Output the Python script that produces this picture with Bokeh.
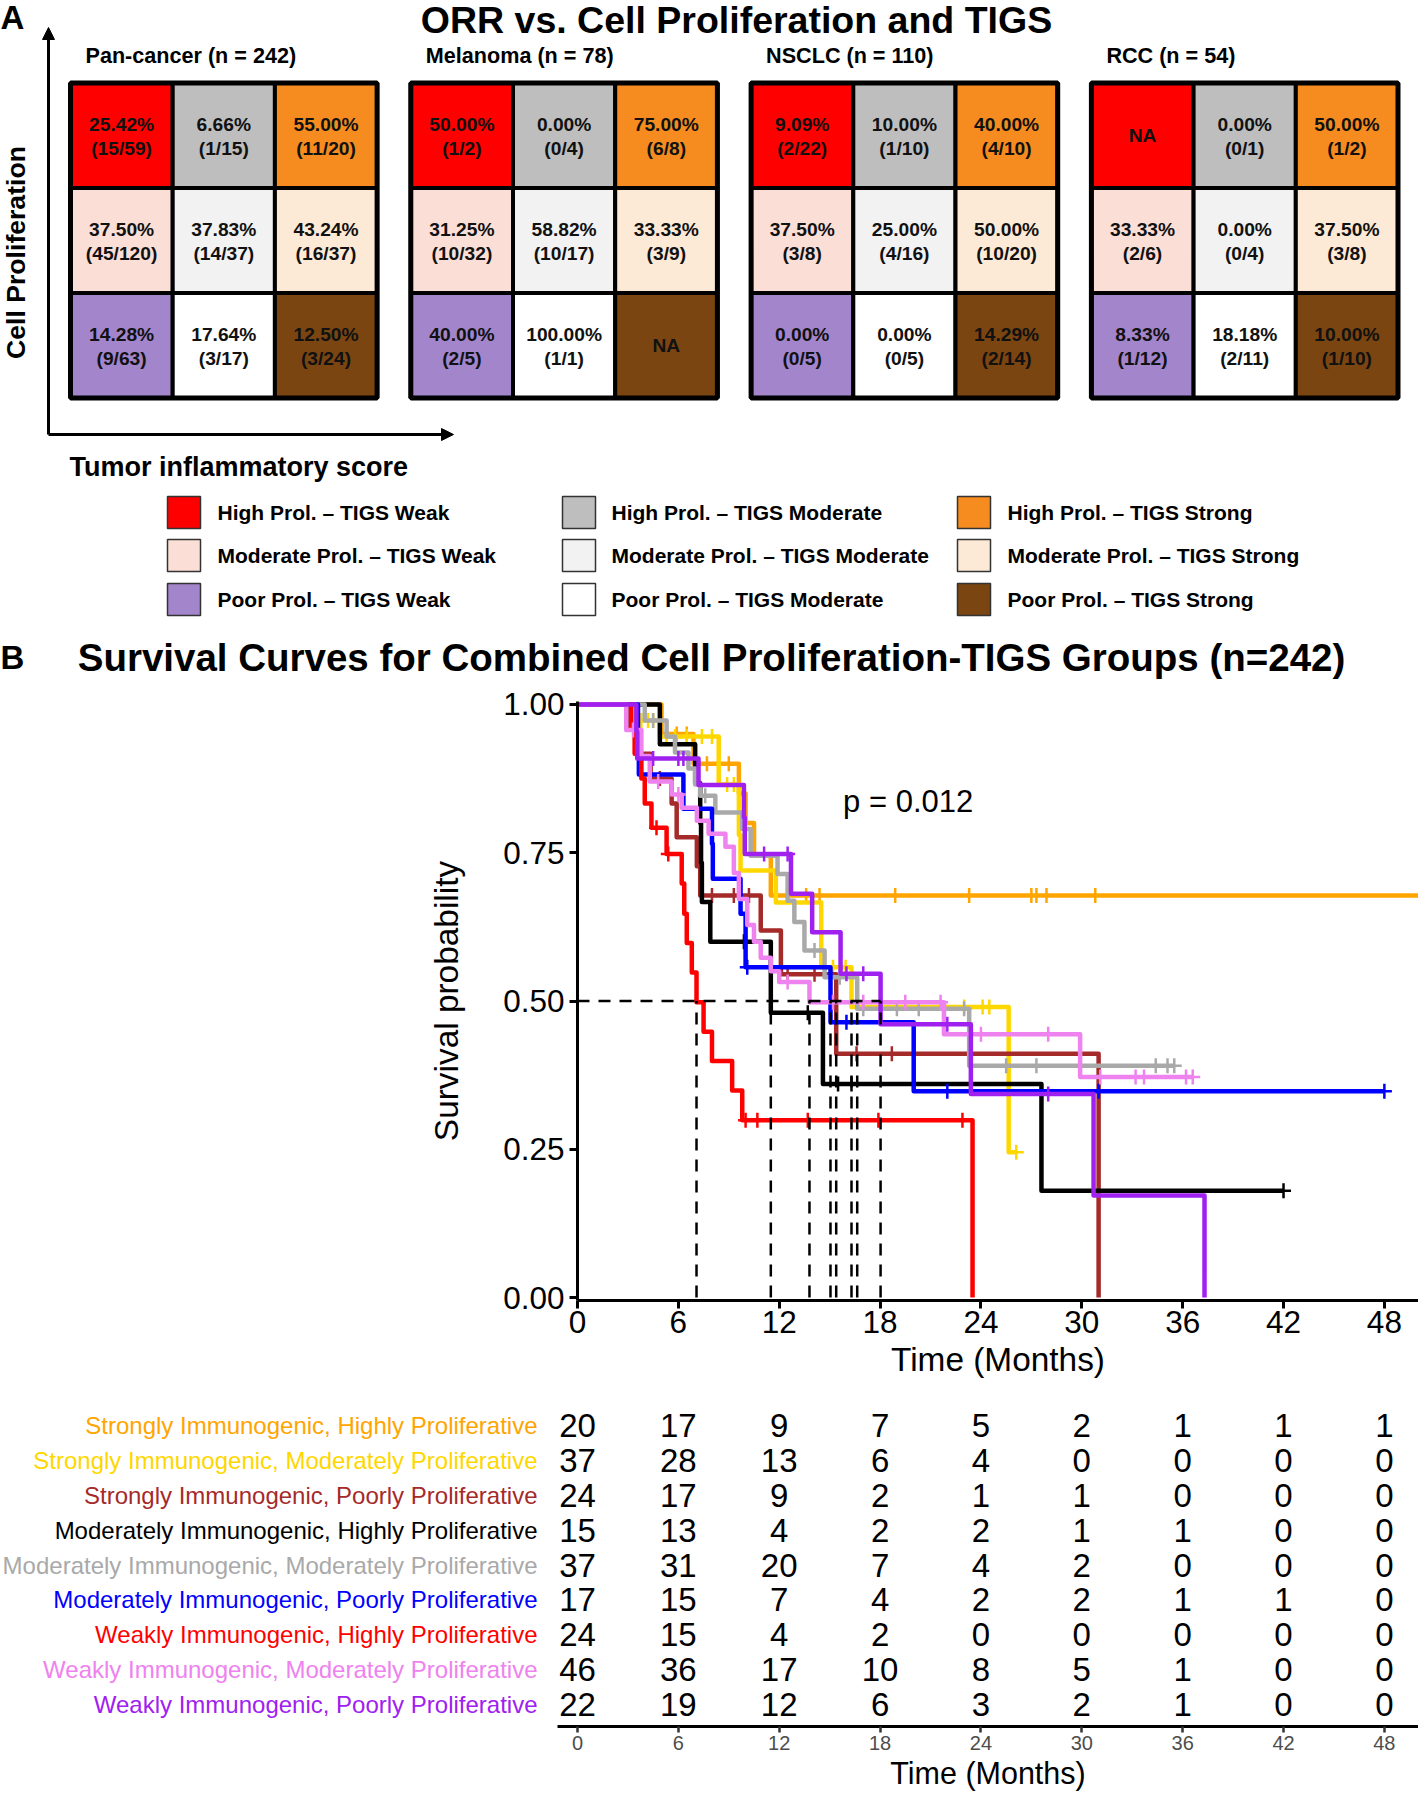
import math
import numpy as np
from bokeh.plotting import figure
from bokeh.models import (Range1d, Label, Arrow, NormalHead, FixedTicker, NumeralTickFormatter)
from bokeh.layouts import column, row
from bokeh.embed import file_html
from bokeh.resources import INLINE
from bokeh.core.properties import value

# ======================= DATA =======================
panel_titles = ["Pan-cancer (n = 242)", "Melanoma (n = 78)", "NSCLC (n = 110)", "RCC (n = 54)"]
prolif_levels = ["High", "Moderate", "Poor"]          # rows (top -> bottom)
tigs_levels = ["Weak", "Moderate", "Strong"]          # columns (left -> right)

pan_pct = [["25.42%", "6.66%", "55.00%"], ["37.50%", "37.83%", "43.24%"], ["14.28%", "17.64%", "12.50%"]]
pan_frac = [["(15/59)", "(1/15)", "(11/20)"], ["(45/120)", "(14/37)", "(16/37)"], ["(9/63)", "(3/17)", "(3/24)"]]
mel_pct = [["50.00%", "0.00%", "75.00%"], ["31.25%", "58.82%", "33.33%"], ["40.00%", "100.00%", "NA"]]
mel_frac = [["(1/2)", "(0/4)", "(6/8)"], ["(10/32)", "(10/17)", "(3/9)"], ["(2/5)", "(1/1)", ""]]
nsclc_pct = [["9.09%", "10.00%", "40.00%"], ["37.50%", "25.00%", "50.00%"], ["0.00%", "0.00%", "14.29%"]]
nsclc_frac = [["(2/22)", "(1/10)", "(4/10)"], ["(3/8)", "(4/16)", "(10/20)"], ["(0/5)", "(0/5)", "(2/14)"]]
rcc_pct = [["NA", "0.00%", "50.00%"], ["33.33%", "0.00%", "37.50%"], ["8.33%", "18.18%", "10.00%"]]
rcc_frac = [["", "(0/1)", "(1/2)"], ["(2/6)", "(0/4)", "(3/8)"], ["(1/12)", "(2/11)", "(1/10)"]]

cell_colors = [["#FF0000", "#BEBEBE", "#F68C1F"],
               ["#FBDFD7", "#F2F2F2", "#FDEAD6"],
               ["#A385CC", "#FFFFFF", "#7A4511"]]

group_names = ["Strongly Immunogenic, Highly Proliferative",
               "Strongly Immunogenic, Moderately Proliferative",
               "Strongly Immunogenic, Poorly Proliferative",
               "Moderately Immunogenic, Highly Proliferative",
               "Moderately Immunogenic, Moderately Proliferative",
               "Moderately Immunogenic, Poorly Proliferative",
               "Weakly Immunogenic, Highly Proliferative",
               "Weakly Immunogenic, Moderately Proliferative",
               "Weakly Immunogenic, Poorly Proliferative"]
group_colors = ["#FFA500", "#FFD700", "#A52A2A", "#000000", "#A9A9A9",
                "#0000FF", "#FF0000", "#EE82EE", "#A020F0"]

# Kaplan-Meier step points (time in months, survival), last follow-up, censor times
orange_t = [0, 5.0, 6.9, 9.6, 10.0, 10.5, 11.5]
orange_s = [1, 0.95, 0.90, 0.85, 0.80, 0.745, 0.678]
orange_end = 50.0
orange_c = [5.9, 6.5, 7.7, 9.0, 13.6, 14.4, 18.9, 23.3, 27.0, 27.3, 27.9, 30.8]

yellow_t = [0, 3.5, 4.9, 8.4, 9.6, 9.7, 11.8, 14.5, 16.3, 25.65]
yellow_s = [1, 0.973, 0.946, 0.865, 0.78, 0.72, 0.666, 0.557, 0.49, 0.245]
yellow_end = 26.1
yellow_c = [3.8, 4.2, 4.5, 5.3, 5.8, 6.5, 7.4, 8.0, 8.9, 9.3, 15.2, 15.95, 23.0, 24.1, 24.5, 26.1]

brown_t = [0, 3.0, 3.55, 4.35, 5.6, 5.9, 7.1, 7.3, 10.9, 12.1, 15.39, 31.0]
brown_s = [1, 0.958, 0.917, 0.875, 0.833, 0.776, 0.727, 0.678, 0.619, 0.545, 0.411, 0.0]
brown_end = 31.0
brown_c = [3.75, 4.9, 8.0, 9.3, 10.2, 12.5, 14.1, 16.6, 18.7]

black_t = [0, 4.9, 7.0, 7.3, 7.35, 7.4, 7.9, 11.5, 14.6, 27.6]
black_s = [1, 0.933, 0.867, 0.8, 0.733, 0.667, 0.6, 0.48, 0.36, 0.18]
black_end = 42.0
black_c = [9.9, 13.7, 15.5, 16.3, 42.0]

grey_t = [0, 4.0, 5.3, 5.8, 6.6, 7.0, 7.3, 8.2, 9.8, 10.3, 11.9, 12.5, 12.9, 13.5, 14.7, 16.64, 23.3]
grey_s = [1, 0.973, 0.946, 0.919, 0.892, 0.865, 0.846, 0.818, 0.79, 0.745, 0.714, 0.669, 0.633,
          0.585, 0.54, 0.487, 0.391]
grey_end = 35.5
grey_c = [4.5, 7.6, 14.1, 15.6, 17.0, 19.0, 20.3, 23.0, 25.5, 27.3, 34.4, 35.1, 35.5]

blue_t = [0, 3.6, 3.65, 6.3, 8.0, 8.05, 9.7, 10.0, 15.05, 20.0]
blue_s = [1, 0.941, 0.882, 0.824, 0.765, 0.706, 0.647, 0.557, 0.464, 0.348]
blue_end = 48.0
blue_c = [10.1, 16.0, 22.0, 31.0, 48.0]

red_t = [0, 3.2, 3.4, 3.8, 4.0, 4.4, 5.3, 6.2, 6.35, 6.5, 6.8, 7.08, 7.5, 8.0, 9.2, 9.8, 23.5]
red_s = [1, 0.958, 0.917, 0.875, 0.833, 0.792, 0.748, 0.698, 0.647, 0.598, 0.548, 0.498, 0.448,
         0.399, 0.349, 0.299, 0.0]
red_end = 23.5
red_c = [4.7, 5.4, 10.0, 10.7, 13.7, 17.9, 22.9]

pink_t = [0, 2.9, 3.8, 4.3, 5.6, 6.2, 7.1, 7.8, 8.8, 9.3, 9.6, 10.1, 10.5, 10.9, 11.5, 12.0,
          13.8, 21.8, 29.9]
pink_s = [1, 0.957, 0.913, 0.87, 0.848, 0.826, 0.804, 0.782, 0.76, 0.716, 0.672, 0.628, 0.60,
          0.573, 0.55, 0.532, 0.498, 0.444, 0.372]
pink_end = 36.6
pink_c = [3.3, 4.8, 6.0, 12.5, 15.2, 17.0, 19.5, 21.6, 24.0, 28.0, 31.1, 33.2, 33.7, 36.2, 36.6]

purple_t = [0, 3.5, 3.55, 7.2, 9.9, 9.95, 12.7, 13.96, 15.65, 18.03, 23.4, 30.7, 37.3]
purple_s = [1, 0.955, 0.909, 0.864, 0.81, 0.748, 0.681, 0.616, 0.546, 0.461, 0.343, 0.172, 0.0]
purple_end = 37.3
purple_c = [4.5, 6.0, 6.3, 11.1, 12.5, 16.0, 17.0, 22.0, 28.0]

km_times = [orange_t, yellow_t, brown_t, black_t, grey_t, blue_t, red_t, pink_t, purple_t]
km_surv = [orange_s, yellow_s, brown_s, black_s, grey_s, blue_s, red_s, pink_s, purple_s]
km_end = [orange_end, yellow_end, brown_end, black_end, grey_end, blue_end, red_end, pink_end, purple_end]
km_cens = [orange_c, yellow_c, brown_c, black_c, grey_c, blue_c, red_c, pink_c, purple_c]

p_value_text = "p = 0.012"

risk_times = [0, 6, 12, 18, 24, 30, 36, 42, 48]
risk_orange = [20, 17, 9, 7, 5, 2, 1, 1, 1]
risk_yellow = [37, 28, 13, 6, 4, 0, 0, 0, 0]
risk_brown = [24, 17, 9, 2, 1, 1, 0, 0, 0]
risk_black = [15, 13, 4, 2, 2, 1, 1, 0, 0]
risk_grey = [37, 31, 20, 7, 4, 2, 0, 0, 0]
risk_blue = [17, 15, 7, 4, 2, 2, 1, 1, 0]
risk_red = [24, 15, 4, 2, 0, 0, 0, 0, 0]
risk_pink = [46, 36, 17, 10, 8, 5, 1, 0, 0]
risk_purple = [22, 19, 12, 6, 3, 2, 1, 0, 0]
risk_rows = [risk_orange, risk_yellow, risk_brown, risk_black, risk_grey,
             risk_blue, risk_red, risk_pink, risk_purple]

# ======================= LAYOUT =======================
W = 1418
FONT = "Liberation Sans"


def bare(p):
    p.grid.visible = False
    p.outline_line_color = None
    p.background_fill_color = "white"
    p.border_fill_color = "white"
    p.frame_align = False


# ---------------- Panel A (+ panel B title) ----------------
HA = 682
figA = figure(width=W, height=HA, x_range=Range1d(0, W), y_range=Range1d(HA, 0),
              output_backend="svg", toolbar_location=None, min_border=0,
              x_axis_location=None, y_axis_location=None)
bare(figA)

GRID_LEFT0, GRID_STEP, GRID_TOP, CW, CH = 70.0, 340.3, 82.5, 102.2, 105.0
pct_tables = [pan_pct, mel_pct, nsclc_pct, rcc_pct]
frac_tables = [pan_frac, mel_frac, nsclc_frac, rcc_frac]

cx, cy, cfill, tx, ty, tt = [], [], [], [], [], []
for k in range(len(panel_titles)):
    gl = GRID_LEFT0 + k * GRID_STEP
    for r in range(3):
        for c in range(3):
            x = gl + (c + 0.5) * CW
            y = GRID_TOP + (r + 0.5) * CH
            cx.append(x); cy.append(y); cfill.append(cell_colors[r][c])
            pct, frac = pct_tables[k][r][c], frac_tables[k][r][c]
            if frac:
                tx += [x, x]; ty += [y - 11, y + 13]; tt += [pct, frac]
            else:
                tx.append(x); ty.append(y); tt.append(pct)

figA.rect(x=cx, y=cy, width=CW, height=CH, fill_color=cfill, line_color="black", line_width=4)
figA.rect(x=[GRID_LEFT0 + k * GRID_STEP + 1.5 * CW for k in range(4)], y=[GRID_TOP + 1.5 * CH] * 4,
          width=3 * CW, height=3 * CH, fill_color=None, line_color="black", line_width=5)
figA.text(x=tx, y=ty, text=tt, text_align="center", text_baseline="middle",
          text_font=value(FONT), text_font_style="bold", text_font_size="19.2px", text_color="#111111")
figA.text(x=[GRID_LEFT0 + k * GRID_STEP + 15 for k in range(4)], y=[55] * 4, text=panel_titles,
          text_align="left", text_baseline="middle", text_font=value(FONT), text_font_style="bold",
          text_font_size="21.6px", text_color="black")

# titles and panel letters
figA.text(x=[736], y=[19], text=["ORR vs. Cell Proliferation and TIGS"], text_align="center",
          text_baseline="middle", text_font=value(FONT), text_font_style="bold",
          text_font_size="37.5px", text_color="black")
figA.text(x=[0, 0], y=[17, 657], text=["A", "B"], text_align="left", text_baseline="middle",
          text_font=value(FONT), text_font_style="bold", text_font_size="33px", text_color="black")
figA.text(x=[711], y=[657], text=["Survival Curves for Combined Cell Proliferation-TIGS Groups (n=242)"],
          text_align="center", text_baseline="middle", text_font=value(FONT), text_font_style="bold",
          text_font_size="38.5px", text_color="black")

# axes arrows
figA.add_layout(Arrow(end=NormalHead(size=12, fill_color="black", line_color="black", line_width=1),
                      x_start=48, y_start=434, x_end=48, y_end=27, line_width=3, line_color="black"))
figA.add_layout(Arrow(end=NormalHead(size=12, fill_color="black", line_color="black", line_width=1),
                      x_start=48, y_start=434, x_end=453, y_end=434, line_width=3, line_color="black"))
figA.text(x=[15], y=[252], text=["Cell Proliferation"], angle=math.pi / 2, text_align="center",
          text_baseline="middle", text_font=value(FONT), text_font_style="bold",
          text_font_size="26.6px", text_color="black")
figA.text(x=[69], y=[466], text=["Tumor inflammatory score"], text_align="left", text_baseline="middle",
          text_font=value(FONT), text_font_style="bold", text_font_size="27px", text_color="black")

# legend of heatmap colours
LEG_Y = [512, 555, 599]
SW_X = [167, 562, 957]
LT_X = [217, 611, 1007]
lx, ly, lfill, ltx, lty, ltt = [], [], [], [], [], []
for r, pl in enumerate(prolif_levels):
    for c, tg in enumerate(tigs_levels):
        lx.append(SW_X[c] + 16.5); ly.append(LEG_Y[r]); lfill.append(cell_colors[r][c])
        ltx.append(LT_X[c]); lty.append(LEG_Y[r]); ltt.append(f"{pl} Prol. \u2013 TIGS {tg}")
figA.rect(x=lx, y=ly, width=33, height=32, fill_color=lfill, line_color="#333333", line_width=1.5)
figA.text(x=ltx, y=lty, text=ltt, text_align="left", text_baseline="middle", text_font=value(FONT),
          text_font_style="bold", text_font_size="21px", text_color="black")

# ---------------- Panel B: Kaplan-Meier ----------------
PX_PER_MONTH = 16.81
KM_LEFT = 577
KM_FRAME_W = W - KM_LEFT
X_END = KM_FRAME_W / PX_PER_MONTH
HK = 706
KM_TOP_B = 19
KM_FRAME_H = 599
figKM = figure(width=W, height=HK, x_range=Range1d(0, X_END), y_range=Range1d(-0.005, 1.005),
               output_backend="svg", toolbar_location=None, min_border_left=KM_LEFT,
               min_border_right=0, min_border_top=KM_TOP_B, min_border_bottom=HK - KM_TOP_B - KM_FRAME_H)
bare(figKM)

for ax in (figKM.xaxis[0], figKM.yaxis[0]):
    ax.axis_line_width = 3
    ax.axis_line_color = "black"
    ax.major_tick_line_width = 3
    ax.major_tick_line_color = "black"
    ax.major_tick_out = 8
    ax.major_tick_in = 0
    ax.minor_tick_line_color = None
    ax.major_label_text_font = FONT
    ax.major_label_text_font_size = "31.5px"
    ax.major_label_text_color = "black"
    ax.axis_label_text_font = FONT
    ax.axis_label_text_font_size = "33.4px"
    ax.axis_label_text_font_style = "normal"
    ax.axis_label_text_color = "black"
figKM.xaxis.ticker = FixedTicker(ticks=risk_times)
figKM.yaxis.ticker = FixedTicker(ticks=[0, 0.25, 0.5, 0.75, 1.0])
figKM.yaxis.formatter = NumeralTickFormatter(format="0.00")
figKM.xaxis.axis_label = "Time (Months)"
figKM.yaxis.axis_label = "Survival probability"
figKM.xaxis.major_label_standoff = 2
figKM.xaxis.axis_label_standoff = 5
figKM.yaxis.major_label_standoff = 5
figKM.yaxis.axis_label_standoff = 35


def surv_at(times, surv, t):
    i = int(np.searchsorted(np.asarray(times), t, side="right")) - 1
    return surv[max(i, 0)]


medians = []
for times, surv, end, cens, col in zip(km_times, km_surv, km_end, km_cens, group_colors):
    xs = list(times) + ([end] if end > times[-1] else [])
    ys = list(surv) + ([surv[-1]] if end > times[-1] else [])
    figKM.step(x=xs, y=ys, mode="after", line_color=col, line_width=4.5, line_join="round")
    cy_ = [surv_at(times, surv, t) for t in cens]
    figKM.scatter(x=cens, y=cy_, marker="cross", size=15, line_color=col, line_width=2.5)
    below = [t for t, s in zip(times, surv) if s <= 0.5]
    if below:
        medians.append(below[0])

figKM.segment(x0=medians, y0=[0] * len(medians), x1=medians, y1=[0.5] * len(medians),
              line_color="black", line_width=2.5, line_dash="12 9")
figKM.segment(x0=[0], y0=[0.5], x1=[max(medians)], y1=[0.5],
              line_color="black", line_width=2.5, line_dash="12 9")
figKM.add_layout(Label(x=15.8, y=0.836, text=p_value_text, text_font=FONT, text_font_size="31px",
                       text_baseline="middle", text_align="left", text_color="black"))

# ---------------- Risk table ----------------
ROW0, ROWSTEP = 1424.9, 34.91
R_FIG_TOP = HA + HK
R_TOP_REF, R_AXIS_REF = 1395.0, 1726.0
R_LEFT = 557
y_rng = ((R_AXIS_REF - ROW0) / ROWSTEP, (R_TOP_REF - ROW0) / ROWSTEP)
R_BOTTOM_B = 1792 - R_AXIS_REF

figRL = figure(width=R_LEFT, height=int(1792 - R_FIG_TOP), x_range=Range1d(0, R_LEFT),
               y_range=Range1d(*y_rng), output_backend="svg", toolbar_location=None,
               min_border_left=0, min_border_right=0, min_border_top=int(R_TOP_REF - R_FIG_TOP),
               min_border_bottom=int(R_BOTTOM_B), x_axis_location=None, y_axis_location=None)
bare(figRL)
figRL.text(x=[537] * len(group_names), y=list(range(len(group_names))), text=group_names,
           text_color=group_colors, text_align="right", text_baseline="middle",
           text_font=value(FONT), text_font_size="24px")

X_START_R = -(KM_LEFT - R_LEFT) / PX_PER_MONTH
figRR = figure(width=W - R_LEFT, height=int(1792 - R_FIG_TOP), x_range=Range1d(X_START_R, X_END),
               y_range=Range1d(*y_rng), output_backend="svg", toolbar_location=None,
               min_border_left=0, min_border_right=0, min_border_top=int(R_TOP_REF - R_FIG_TOP),
               min_border_bottom=int(R_BOTTOM_B), y_axis_location=None)
bare(figRR)
xa = figRR.xaxis[0]
xa.ticker = FixedTicker(ticks=risk_times)
xa.axis_line_width = 3
xa.axis_line_color = "black"
xa.major_tick_line_color = "#333333"
xa.major_tick_line_width = 2.5
xa.major_tick_out = 6
xa.major_tick_in = 0
xa.minor_tick_line_color = None
xa.major_label_text_font = FONT
xa.major_label_text_font_size = "20px"
xa.major_label_text_color = "#4D4D4D"
xa.major_label_standoff = 3
xa.axis_label = "Time (Months)"
xa.axis_label_text_font = FONT
xa.axis_label_text_font_size = "30.5px"
xa.axis_label_text_font_style = "normal"
xa.axis_label_text_color = "black"
xa.axis_label_standoff = 3

nx, ny, nt = [], [], []
for i, r_counts in enumerate(risk_rows):
    for t, n in zip(risk_times, r_counts):
        nx.append(t); ny.append(i); nt.append(str(n))
figRR.text(x=nx, y=ny, text=nt, text_align="center", text_baseline="middle",
           text_font=value(FONT), text_font_size="33px", text_color="black")

layout = column(figA, figKM, row(figRL, figRR, spacing=0), spacing=0)
open("out.html", "w").write(file_html(layout, INLINE))
